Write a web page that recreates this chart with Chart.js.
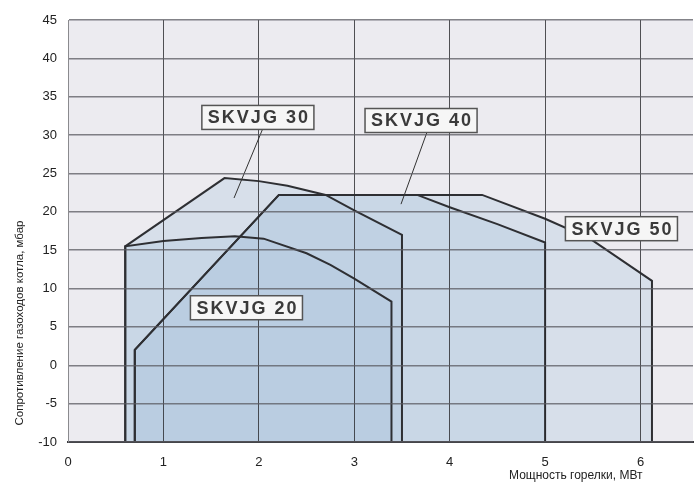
<!DOCTYPE html>
<html>
<head>
<meta charset="utf-8">
<script src="https://cdn.jsdelivr.net/npm/chart.js@4.4.0/dist/chart.umd.min.js"></script>
<style>
  html, body { margin: 0; padding: 0; background: #fff; }
  #wrap { width: 696px; height: 483px; }
</style>
</head>
<body>
<div id="wrap"><canvas id="canvas" width="696" height="483"></canvas></div>
<script>
// boiler working fields, burner power (MW) vs flue resistance (mbar)
var s20x = [0.6, 0.6, 1.0, 1.4, 1.75, 2.05, 2.5, 2.75, 3.0, 3.39, 3.39];
var s20y = [-10, 15.5, 16.2, 16.6, 16.8, 16.5, 14.6, 13.1, 11.3, 8.3, -10];

var s30x = [0.6, 0.6, 1.64, 2.0, 2.3, 2.7, 3.0, 3.5, 3.5];
var s30y = [-10, 15.5, 24.4, 24.0, 23.4, 22.2, 20.2, 17.0, -10];

var s40x = [0.7, 0.7, 2.21, 3.66, 4.0, 4.5, 5.0, 5.0];
var s40y = [-10, 2.0, 22.2, 22.2, 20.6, 18.4, 16.0, -10];

var s50x = [0.7, 0.7, 2.21, 4.34, 5.0, 5.47, 6.12, 6.12];
var s50y = [-10, 2.0, 22.2, 22.2, 19.1, 16.5, 11.0, -10];

var names = ['SKVJG 20', 'SKVJG 30', 'SKVJG 40', 'SKVJG 50'];
// label anchors (x in MW, y in mbar)
var labelX = [1.87, 1.99, 3.70, 5.80];
var labelY = [7.5, 32.3, 31.9, 17.8];
// leader lines
var lead30x = [2.04, 1.74], lead30y = [30.8, 21.8];
var lead40x = [3.76, 3.49], lead40y = [30.3, 21.0];

var xTicks = [0, 1, 2, 3, 4, 5, 6];
var yTicks = [-10, -5, 0, 5, 10, 15, 20, 25, 30, 35, 40, 45];

function pts(xs, ys) {
    return xs.map(function(v, i){ return {x: v, y: ys[i]}; });
}

var fillCol = 'rgba(175,198,222,0.34)';
var lineCol = '#2e2f33';

function area(xs, ys) {
    return {
        data: pts(xs, ys),
        showLine: true,
        fill: 'start',
        backgroundColor: fillCol,
        borderColor: lineCol,
        borderWidth: 2,
        pointRadius: 0,
        tension: 0
    };
}
function leader(xs, ys) {
    return {
        data: pts(xs, ys),
        showLine: true,
        fill: false,
        borderColor: '#333',
        borderWidth: 1,
        pointRadius: 0
    };
}

var bgPlugin = {
    id: 'bg',
    beforeDraw: function(chart) {
        var a = chart.chartArea, c = chart.ctx;
        c.save();
        c.fillStyle = '#ecebf0';
        c.fillRect(a.left, a.top, a.right - a.left, a.bottom - a.top);
        c.restore();
    },
    afterDraw: function(chart) {
        var c = chart.ctx, sx = chart.scales.x, sy = chart.scales.y;
        c.save();
        // boxes with model names
        c.font = 'bold 18px "Liberation Sans", Arial, sans-serif';
        c.letterSpacing = '2px';
        c.textAlign = 'center';
        c.textBaseline = 'middle';
        names.forEach(function(n, i) {
            var px = sx.getPixelForValue(labelX[i]);
            var py = sy.getPixelForValue(labelY[i]);
            var w = c.measureText(n).width + 10;
            var h = 24;
            c.fillStyle = '#f6f6f6';
            c.fillRect(px - w / 2, py - h / 2, w, h);
            c.strokeStyle = '#555';
            c.lineWidth = 1.5;
            c.strokeRect(px - w / 2, py - h / 2, w, h);
            c.fillStyle = '#3a3a3a';
            c.fillText(n, px + 1, py + 1);
        });
        c.letterSpacing = '0px';
        // axis titles
        c.fillStyle = '#222';
        c.font = '11.5px "Liberation Sans Narrow", "Liberation Sans", Arial, sans-serif';
        c.save();
        c.translate(20, 323);
        c.rotate(-Math.PI / 2);
        c.fillText('Сопротивление газоходов котла, мбар', 0, 0);
        c.restore();
        c.font = '12px "Liberation Sans Narrow", "Liberation Sans", Arial, sans-serif';
        c.textAlign = 'right';
        c.fillText('Мощность горелки, МВт', sx.getPixelForValue(6) + 2, 476);
        c.restore();
    }
};

const ctx = document.getElementById('canvas').getContext('2d');
const myChart = new Chart(ctx, {
    type: 'scatter',
    data: {
        datasets: [
            leader(lead30x, lead30y),
            leader(lead40x, lead40y),
            area(s20x, s20y),
            area(s30x, s30y),
            area(s40x, s40y),
            area(s50x, s50y)
        ]
    },
    options: {
        responsive: false,
        animation: false,
        layout: { padding: { top: 20, right: 3, left: 0, bottom: 0 } },
        plugins: {
            legend: { display: false },
            tooltip: { enabled: false },
            filler: { drawTime: 'beforeDatasetsDraw' }
        },
        scales: {
            x: {
                type: 'linear',
                min: 0,
                max: 6.55,
                afterBuildTicks: function(s) {
                    s.ticks = xTicks.map(function(v){ return {value: v}; });
                },
                afterFit: function(s) { s.height = 41; },
                ticks: {
                    padding: 13,
                    color: '#222',
                    font: { family: '"Liberation Sans Narrow", "Liberation Sans", Arial', size: 13 }
                },
                grid: { color: 'rgba(40,40,44,0.8)', lineWidth: 1, drawTicks: false, z: 1 },
                border: { color: '#3a3a3e', width: 2, z: 1 }
            },
            y: {
                type: 'linear',
                min: -10,
                max: 45,
                afterBuildTicks: function(s) {
                    s.ticks = yTicks.map(function(v){ return {value: v}; });
                },
                afterFit: function(s) { s.width = 68; },
                ticks: {
                    padding: 11,
                    color: '#222',
                    font: { family: '"Liberation Sans Narrow", "Liberation Sans", Arial', size: 13 }
                },
                grid: { color: 'rgba(90,90,96,0.75)', lineWidth: 1.5, drawTicks: false, z: 1 },
                border: { color: '#8a8a8e', width: 1, z: 1 }
            }
        }
    },
    plugins: [bgPlugin]
});
</script>
</body>
</html>
